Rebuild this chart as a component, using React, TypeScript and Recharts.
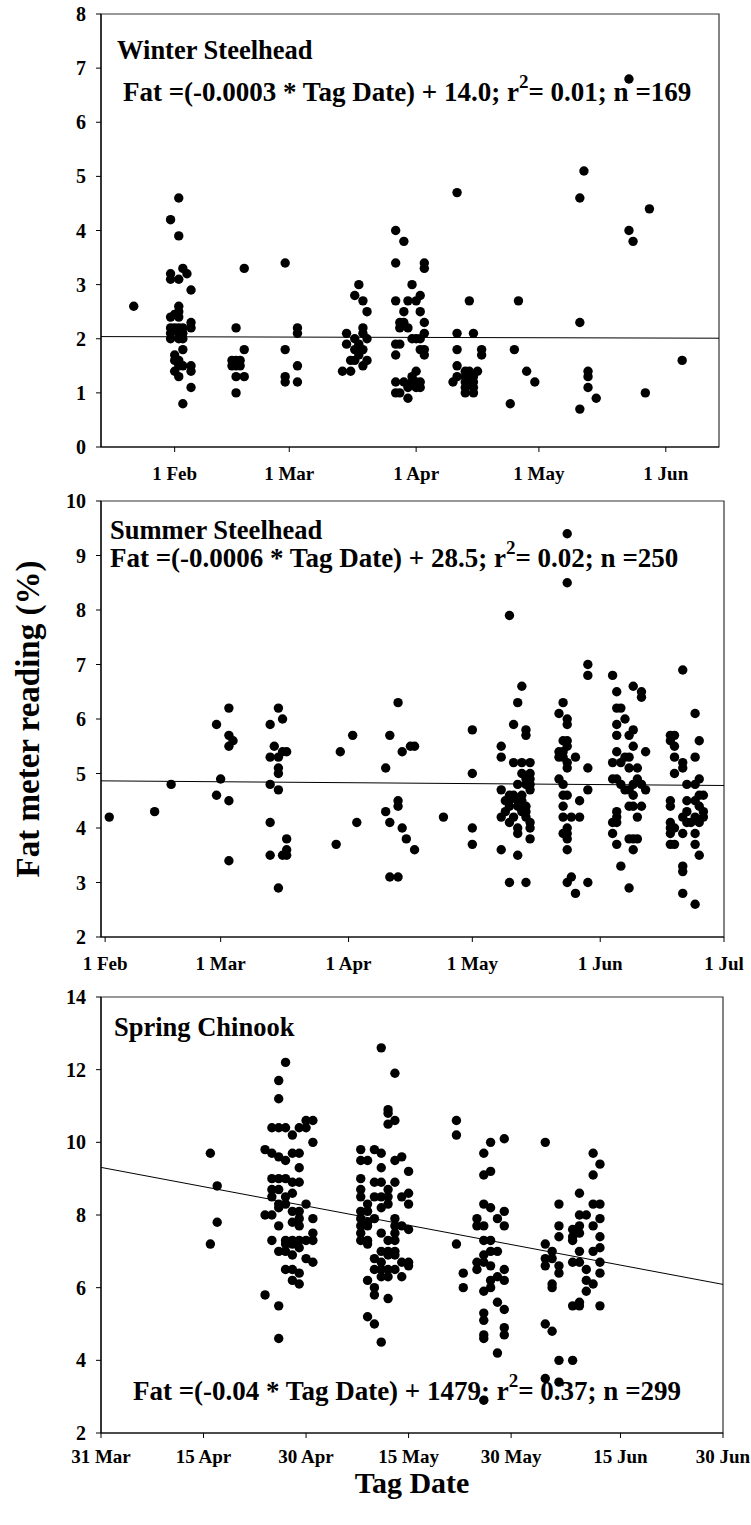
import React from 'react';
import { ScatterChart, Scatter, XAxis, YAxis, ReferenceArea, ReferenceLine } from 'recharts';

type Pt = [number, number];

// ---------- Winter Steelhead (x = day of year, y = fat %) ----------
const winterTickDays = [32, 60, 91, 121, 152];
const winterTickLabels = ['1 Feb', '1 Mar', '1 Apr', '1 May', '1 Jun'];
const winterYTicks = [0, 1, 2, 3, 4, 5, 6, 7, 8];
const winterFit: Pt[] = [[14, 2.04], [165, 2.01]];
const winterPoints: Pt[] = [
  [22, 2.6],
  [33, 4.6], [31, 4.2], [33, 3.9], [31, 3.2], [31, 3.1], [33, 3.1], [34, 3.3], [35, 3.2], [36, 2.9], [33, 2.6],
  [33, 2.5], [32, 2.45], [31, 2.4], [33, 2.4], [36, 2.3], [36, 2.2], [31, 2.2], [32, 2.2], [33, 2.2], [34, 2.2],
  [31, 2.1], [33, 2.1], [34, 2.1], [31, 2.0], [33, 2.0], [34, 2.0], [34, 1.8], [32, 1.7], [33, 1.6], [32, 1.6],
  [34, 1.5], [33, 1.5], [36, 1.5], [32, 1.4], [36, 1.4], [33, 1.3], [36, 1.1], [34, 0.8],
  [47, 2.2], [49, 3.3], [49, 1.8], [46, 1.6], [47, 1.6], [48, 1.6], [46, 1.5], [47, 1.5], [48, 1.5], [47, 1.3], [49, 1.3], [47, 1.0],
  [59, 3.4], [59, 1.8], [62, 2.2], [62, 2.1], [62, 1.5], [59, 1.3], [59, 1.2], [62, 1.2],
  [77, 3.0], [76, 2.8], [78, 2.7], [79, 2.5], [78, 2.2], [74, 2.1], [78, 2.1], [76, 2.0], [79, 2.0], [74, 1.9],
  [77, 1.9], [76, 1.8], [78, 1.8], [77, 1.7], [75, 1.6], [76, 1.6], [79, 1.6], [78, 1.5], [73, 1.4], [75, 1.4],
  [86, 4.0], [88, 3.8], [86, 3.4], [93, 3.4], [93, 3.3], [90, 3.0], [86, 2.7], [89, 2.7], [91, 2.7], [92, 2.8],
  [88, 2.5], [92, 2.5], [88, 2.3], [87, 2.3], [93, 2.3], [87, 2.2], [89, 2.2], [93, 2.1], [90, 2.0], [91, 2.0], [92, 2.0],
  [86, 1.9], [87, 1.9], [92, 1.8], [93, 1.8], [86, 1.7], [93, 1.7], [91, 1.4], [90, 1.3], [86, 1.2], [88, 1.2],
  [90, 1.2], [91, 1.2], [92, 1.2], [89, 1.1], [91, 1.1], [92, 1.1], [86, 1.0], [87, 1.0], [89, 0.9],
  [101, 4.7], [104, 2.7], [101, 2.1], [105, 2.1], [101, 1.8], [107, 1.8], [107, 1.7], [101, 1.5], [100, 1.2], [101, 1.3],
  [103, 1.4], [104, 1.4], [106, 1.4], [103, 1.3], [105, 1.3], [103, 1.2], [104, 1.2], [105, 1.2], [103, 1.1], [105, 1.1],
  [103, 1.0], [105, 1.0],
  [116, 2.7], [115, 1.8], [118, 1.4], [120, 1.2], [114, 0.8],
  [132, 5.1], [131, 4.6], [131, 2.3], [133, 1.4], [133, 1.3], [133, 1.1], [135, 0.9], [131, 0.7],
  [143, 6.8], [148, 4.4], [143, 4.0], [144, 3.8], [147, 1.0], [156, 1.6],
];

// ---------- Summer Steelhead ----------
const summerTickDays = [32, 60, 91, 121, 152, 182];
const summerTickLabels = ['1 Feb', '1 Mar', '1 Apr', '1 May', '1 Jun', '1 Jul'];
const summerYTicks = [2, 3, 4, 5, 6, 7, 8, 9, 10];
const summerFit: Pt[] = [[31, 4.865], [182, 4.78]];
const summerPoints: Pt[] = [
  [33, 4.2], [44, 4.3], [48, 4.8],
  [59, 5.9], [62, 6.2], [62, 5.7], [63, 5.6], [62, 5.5], [60, 4.9], [59, 4.6], [62, 4.5], [62, 3.4],
  [74, 6.2], [75, 6.0], [72, 5.9], [73, 5.5], [72, 5.3], [74, 5.3], [75, 5.4], [76, 5.4], [74, 5.1], [74, 5.0],
  [72, 4.8], [74, 4.7], [72, 4.1], [76, 3.8], [76, 3.6], [72, 3.5], [75, 3.5], [76, 3.5], [74, 2.9],
  [89, 5.4], [92, 5.7], [93, 4.1], [88, 3.7],
  [103, 6.3], [101, 5.7], [104, 5.4], [106, 5.5], [107, 5.5], [100, 5.1], [103, 4.5], [103, 4.4], [100, 4.3],
  [101, 4.1], [104, 4.0], [105, 3.8], [107, 3.6], [101, 3.1], [103, 3.1],
  [114, 4.2], [121, 5.8], [121, 5.0], [121, 4.0], [121, 3.7],
  [130, 7.9], [133, 6.6], [132, 6.3], [131, 5.9], [134, 5.8], [134, 5.7], [128, 5.5], [128, 5.3], [131, 5.2],
  [133, 5.2], [135, 5.2], [133, 5.0], [135, 5.0], [134, 4.9], [135, 4.9], [132, 4.8], [134, 4.8], [135, 4.8],
  [128, 4.7], [135, 4.7], [130, 4.6], [131, 4.6], [133, 4.6], [129, 4.5], [130, 4.5], [132, 4.5], [133, 4.5],
  [130, 4.4], [132, 4.4], [134, 4.4], [129, 4.3], [133, 4.3], [134, 4.3], [128, 4.2], [131, 4.2], [134, 4.2],
  [130, 4.1], [135, 4.1], [132, 4.0], [135, 4.0], [132, 3.9], [135, 3.8], [128, 3.6], [132, 3.5], [130, 3.0], [134, 3.0],
  [144, 9.4], [144, 8.5], [149, 7.0], [149, 6.8], [143, 6.3], [142, 6.1], [144, 6.0], [144, 5.9], [143, 5.6],
  [144, 5.6], [142, 5.4], [143, 5.4], [144, 5.5], [143, 5.3], [146, 5.3], [144, 5.2], [142, 5.3], [144, 5.1],
  [149, 5.1], [142, 4.9], [143, 4.8], [143, 4.6], [144, 4.6], [147, 4.5], [143, 4.4], [149, 4.7], [143, 4.2],
  [145, 4.2], [147, 4.2], [144, 4.0], [143, 3.9], [144, 3.9], [144, 3.8], [144, 3.6], [145, 3.1], [144, 3.0],
  [149, 3.0], [146, 2.8],
  [155, 6.8], [160, 6.6], [162, 6.5], [162, 6.4], [156, 6.5], [156, 6.2], [157, 6.2], [156, 5.9], [158, 6.0],
  [160, 5.8], [159, 5.7], [156, 5.7], [160, 5.5], [156, 5.4], [163, 5.4], [158, 5.3], [159, 5.3], [155, 5.2],
  [157, 5.2], [159, 5.1], [161, 5.1], [155, 4.9], [156, 4.9], [161, 4.9], [157, 4.8], [160, 4.8], [162, 4.8],
  [158, 4.7], [159, 4.7], [163, 4.7], [160, 4.6], [159, 4.4], [160, 4.4], [162, 4.4], [156, 4.3], [156, 4.2],
  [161, 4.2], [155, 4.1], [156, 4.1], [155, 3.9], [159, 3.8], [160, 3.8], [161, 3.8], [156, 3.7], [160, 3.6],
  [157, 3.3], [159, 2.9],
  [172, 6.9], [175, 6.1], [169, 5.7], [170, 5.7], [170, 5.5], [169, 5.6], [176, 5.6], [170, 5.3], [172, 5.2],
  [175, 5.3], [170, 5.0], [172, 5.1], [176, 4.9], [173, 4.8], [175, 4.8], [176, 4.6], [177, 4.6], [175, 4.5],
  [169, 4.5], [173, 4.5], [169, 4.4], [176, 4.4], [173, 4.3], [177, 4.3], [172, 4.2], [175, 4.2], [177, 4.2],
  [169, 4.1], [173, 4.1], [176, 4.1], [169, 4.0], [170, 4.0], [174, 4.1], [169, 3.9], [172, 3.9], [175, 3.9],
  [169, 3.7], [170, 3.7], [175, 3.7], [176, 3.5], [172, 3.3], [172, 3.2], [172, 2.8], [175, 2.6],
];

// ---------- Spring Chinook ----------
const chinookTickDays = [90, 105, 120, 135, 150, 166, 181];
const chinookTickLabels = ['31 Mar', '15 Apr', '30 Apr', '15 May', '30 May', '15 Jun', '30 Jun'];
const chinookYTicks = [2, 4, 6, 8, 10, 12, 14];
const chinookFit: Pt[] = [[90, 9.31], [181, 6.09]];
const chinookPoints: Pt[] = [
  [106, 9.7], [107, 8.8], [107, 7.8], [106, 7.2],
  [117, 12.2], [116, 11.7], [116, 11.2], [115, 10.4], [116, 10.4], [117, 10.4], [120, 10.6], [121, 10.6],
  [119, 10.4], [120, 10.4], [118, 10.2], [121, 10.0], [114, 9.8], [115, 9.7], [116, 9.6], [117, 9.5], [118, 9.7],
  [119, 9.7], [119, 9.3], [115, 9.0], [116, 9.0], [117, 9.0], [118, 8.9], [119, 8.9], [115, 8.7], [116, 8.7],
  [115, 8.5], [117, 8.5], [118, 8.6], [116, 8.3], [117, 8.3], [120, 8.3], [116, 8.2], [118, 8.1], [119, 8.1],
  [114, 8.0], [115, 8.0], [121, 7.9], [118, 7.8], [119, 7.9], [116, 7.7], [121, 7.5], [119, 7.7], [115, 7.3],
  [117, 7.3], [118, 7.3], [119, 7.3], [120, 7.3], [121, 7.3], [117, 7.2], [118, 7.2], [116, 7.0], [117, 7.0],
  [119, 7.1], [118, 6.9], [120, 6.8], [121, 6.7], [117, 6.5], [118, 6.5], [119, 6.4], [118, 6.2], [119, 6.1],
  [114, 5.8], [116, 5.5], [116, 4.6],
  [131, 12.6], [133, 11.9], [132, 10.9], [132, 10.8], [132, 10.5], [133, 10.6], [128, 9.8], [130, 9.8], [128, 9.5],
  [129, 9.5], [131, 9.7], [133, 9.5], [134, 9.6], [131, 9.3], [135, 9.2], [128, 9.0], [130, 8.9], [131, 8.9],
  [133, 8.9], [128, 8.7], [132, 8.7], [128, 8.5], [130, 8.5], [131, 8.5], [132, 8.5], [134, 8.5], [135, 8.6],
  [129, 8.3], [132, 8.3], [135, 8.3], [131, 8.2], [128, 8.1], [129, 8.1], [128, 7.9], [130, 7.9], [133, 7.9],
  [129, 7.8], [128, 7.7], [129, 7.7], [133, 7.7], [134, 7.7], [135, 7.6], [128, 7.5], [131, 7.5], [133, 7.5],
  [128, 7.3], [129, 7.3], [132, 7.3], [133, 7.3], [129, 7.2], [131, 7.0], [132, 7.0], [133, 7.0], [132, 6.9],
  [133, 6.9], [130, 6.8], [131, 6.7], [134, 6.7], [135, 6.7], [135, 6.6], [130, 6.5], [131, 6.5], [132, 6.5],
  [133, 6.5], [131, 6.3], [132, 6.3], [134, 6.3], [129, 6.2], [130, 6.0], [130, 5.8], [132, 5.7], [129, 5.2],
  [130, 5.0], [131, 4.5],
  [142, 10.6], [142, 10.2], [142, 7.2], [143, 6.4], [143, 6.0],
  [149, 10.1], [147, 10.0], [146, 9.7], [147, 9.2], [146, 9.1], [146, 8.3], [147, 8.2], [149, 8.1], [145, 7.9],
  [148, 7.9], [145, 7.7], [146, 7.7], [149, 7.7], [146, 7.3], [147, 7.3], [147, 7.0], [148, 7.0], [146, 6.9],
  [145, 6.7], [146, 6.7], [147, 6.6], [145, 6.5], [149, 6.5], [148, 6.3], [147, 6.2], [149, 6.2], [146, 5.9],
  [147, 6.0], [148, 5.6], [149, 5.4], [146, 5.3], [146, 5.1], [149, 4.9], [149, 4.7], [146, 4.7], [146, 4.6],
  [148, 4.2], [146, 2.9],
  [155, 10.0], [162, 9.7], [163, 9.4], [162, 9.1], [160, 8.6], [157, 8.3], [162, 8.3], [163, 8.3], [160, 8.0],
  [161, 8.0], [163, 7.9], [157, 7.7], [159, 7.6], [160, 7.7], [162, 7.7], [159, 7.4], [157, 7.4], [163, 7.4],
  [160, 7.5], [155, 7.2], [159, 7.3], [163, 7.1], [156, 7.0], [160, 7.0], [162, 7.0], [155, 6.8], [156, 6.8],
  [159, 6.7], [160, 6.7], [163, 6.7], [155, 6.6], [157, 6.6], [161, 6.5], [163, 6.4], [157, 6.4], [161, 6.2],
  [162, 6.1], [156, 6.1], [156, 6.0], [161, 5.9], [159, 5.5], [160, 5.6], [160, 5.5], [163, 5.5], [155, 5.0],
  [156, 4.8], [157, 4.0], [159, 4.0], [155, 3.5], [157, 3.4],
];

const FONT = "'Liberation Serif', 'Times New Roman', Times, serif";

const Dot = (props: any) => {
  const { cx, cy } = props;
  if (cx == null || cy == null) return null;
  return <circle cx={cx} cy={cy} r={4.7} fill="#000" />;
};

type PanelProps = {
  top: number;
  height: number;
  margin: { top: number; right: number; bottom: number; left: number };
  points: Pt[];
  xDomain: [number, number];
  xTicks: number[];
  xLabels: string[];
  yTicks: number[];
  fit: Pt[];
  tickGap: number;
};

function Panel({ top, height, margin, points, xDomain, xTicks, xLabels, yTicks, fit, tickGap }: PanelProps) {
  const data = points.map(([x, y]) => ({ x, y }));
  const yDomain: [number, number] = [yTicks[0], yTicks[yTicks.length - 1]];
  return (
    <div style={{ position: 'absolute', left: 0, top, width: 751, height }}>
      <ScatterChart width={751} height={height} margin={margin}>
        <XAxis
          dataKey="x"
          type="number"
          domain={xDomain}
          ticks={xTicks}
          interval={0}
          allowDataOverflow
          tickFormatter={(v: number) => xLabels[xTicks.indexOf(v)] ?? ''}
          tickSize={5}
          tickMargin={tickGap}
          height={30}
          axisLine={{ stroke: '#000', strokeWidth: 1.2 }}
          tickLine={{ stroke: '#000', strokeWidth: 1 }}
          tick={{ fill: '#000', fontSize: 19, fontWeight: 700, fontFamily: FONT }}
        />
        <YAxis
          dataKey="y"
          type="number"
          domain={yDomain}
          ticks={yTicks}
          interval={0}
          allowDataOverflow
          tickSize={5}
          tickMargin={10}
          width={60}
          axisLine={{ stroke: '#000', strokeWidth: 1.2 }}
          tickLine={{ stroke: '#000', strokeWidth: 1 }}
          tick={{ fill: '#000', fontSize: 20, fontWeight: 700, fontFamily: FONT }}
        />
        <ReferenceArea
          x1={xDomain[0]}
          x2={xDomain[1]}
          y1={yDomain[0]}
          y2={yDomain[1]}
          fill="none"
          fillOpacity={0}
          stroke="#333"
          strokeWidth={1.2}
          ifOverflow="visible"
        />
        <ReferenceLine
          segment={[{ x: fit[0][0], y: fit[0][1] }, { x: fit[1][0], y: fit[1][1] }]}
          stroke="#000"
          strokeWidth={1}
          ifOverflow="visible"
        />
        <Scatter data={data} shape={Dot} isAnimationActive={false} />
      </ScatterChart>
    </div>
  );
}

function Eq({ x, y, pre, post }: { x: number; y: number; pre: string; post: string }) {
  return (
    <text x={x} y={y} fontFamily={FONT} fontWeight={700} fontSize={27} fill="#000">
      {pre}
      <tspan dy={-13} fontSize={19}>2</tspan>
      <tspan dy={13}>{post}</tspan>
    </text>
  );
}

export default function App() {
  return (
    <div style={{ position: 'absolute', left: 0, top: 0, width: 751, height: 1525, background: '#fff' }}>
      <Panel
        top={0}
        height={490}
        margin={{ top: 14, right: 32, bottom: 13, left: 41 }}
        points={winterPoints}
        xDomain={[14, 165]}
        xTicks={winterTickDays}
        xLabels={winterTickLabels}
        yTicks={winterYTicks}
        fit={winterFit}
        tickGap={15}
      />
      <Panel
        top={490}
        height={490}
        margin={{ top: 11, right: 27, bottom: 13, left: 41 }}
        points={summerPoints}
        xDomain={[31, 182]}
        xTicks={summerTickDays}
        xLabels={summerTickLabels}
        yTicks={summerYTicks}
        fit={summerFit}
        tickGap={15}
      />
      <Panel
        top={980}
        height={545}
        margin={{ top: 17, right: 28, bottom: 62, left: 41 }}
        points={chinookPoints}
        xDomain={[90, 181]}
        xTicks={chinookTickDays}
        xLabels={chinookTickLabels}
        yTicks={chinookYTicks}
        fit={chinookFit}
        tickGap={12}
      />
      <svg
        width={751}
        height={1525}
        style={{ position: 'absolute', left: 0, top: 0, pointerEvents: 'none' }}
      >
        <text x={117} y={59} fontFamily={FONT} fontWeight={700} fontSize={26.5} fill="#000">Winter Steelhead</text>
        <Eq x={123} y={101} pre="Fat =(-0.0003 * Tag Date) + 14.0; r" post="= 0.01; n =169" />
        <text x={110} y={539} fontFamily={FONT} fontWeight={700} fontSize={26.5} fill="#000">Summer Steelhead</text>
        <Eq x={110} y={567} pre="Fat =(-0.0006 * Tag Date) + 28.5; r" post="= 0.02; n =250" />
        <text x={114} y={1036} fontFamily={FONT} fontWeight={700} fontSize={26.5} fill="#000">Spring Chinook</text>
        <Eq x={133} y={1400} pre="Fat =(-0.04 * Tag Date) + 1479; r" post="= 0.37; n =299" />
        <text
          x={28}
          y={719}
          transform="rotate(-90 28 719)"
          textAnchor="middle"
          dominantBaseline="central"
          fontFamily={FONT}
          fontWeight={700}
          fontSize={33}
          fill="#000"
        >
          Fat meter reading (%)
        </text>
        <text x={412} y={1493} textAnchor="middle" fontFamily={FONT} fontWeight={700} fontSize={30} fill="#000">
          Tag Date
        </text>
      </svg>
    </div>
  );
}
